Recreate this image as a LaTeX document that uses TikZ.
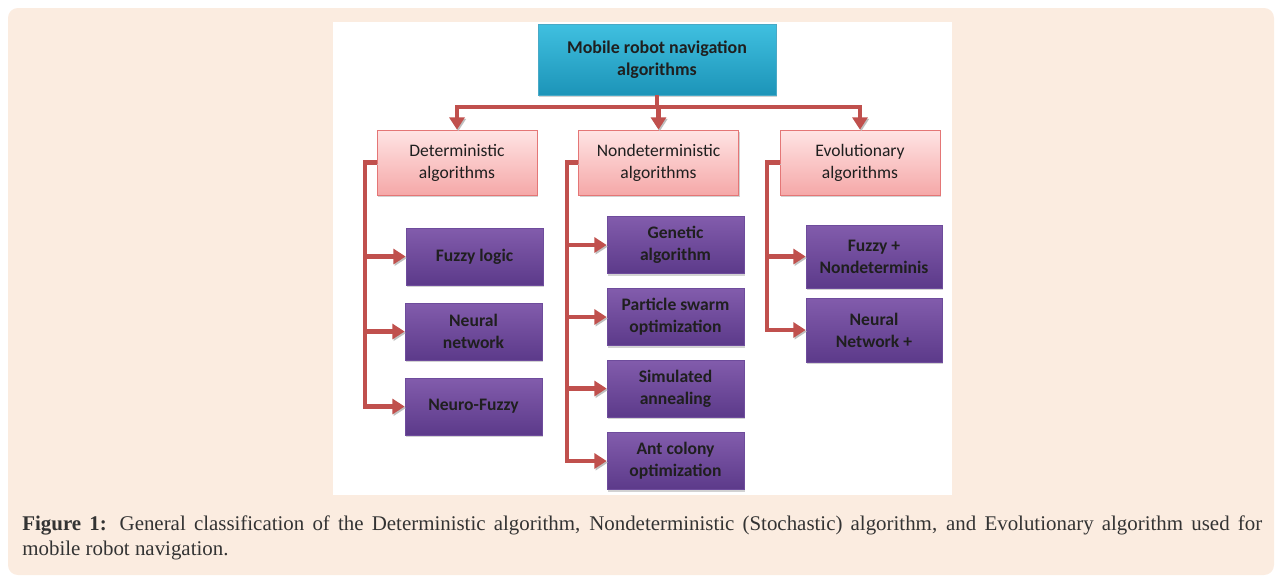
\documentclass[tikz,border=0pt]{standalone}
\usepackage{fontspec}
\setmainfont{Carlito}
\newfontfamily\capfont{Liberation Serif}
\usetikzlibrary{arrows.meta,shadows}
\definecolor{paper}{RGB}{251,236,224}
\definecolor{linkred}{RGB}{192,80,77}
\definecolor{tealtop}{RGB}{64,192,224}
\definecolor{tealbot}{RGB}{28,148,184}
\definecolor{pinktop}{RGB}{255,228,228}
\definecolor{pinkbot}{RGB}{245,168,168}
\definecolor{pinkline}{RGB}{228,118,118}
\definecolor{purptop}{RGB}{130,92,172}
\definecolor{purpbot}{RGB}{92,58,138}
\definecolor{purpline}{RGB}{110,76,156}

\begin{document}
\begin{tikzpicture}[x=0.02cm, y=-0.02cm, >={Triangle[width=8.5pt,length=7pt]},
    conn/.style={draw=linkred, line width=2.3pt,
      preaction={draw=black!25, transform canvas={xshift=0.7pt,yshift=-0.9pt}}},
    box/.style={rectangle, align=center, inner sep=0pt, text=black!88,
      drop shadow={shadow xshift=0.8pt, shadow yshift=-1.4pt, opacity=0.35},
      font=\fontsize{10}{12.5}\selectfont},
    root/.style={box, top color=tealtop, bottom color=tealbot, draw=tealbot!80,
      minimum width=4.76cm, minimum height=1.42cm, font=\fontsize{10.2}{12.5}\selectfont\bfseries},
    cat/.style={box, top color=pinktop, bottom color=pinkbot, draw=pinkline,
      minimum width=3.2cm, minimum height=1.3cm},
    leaf/.style={box, top color=purptop, bottom color=purpbot, draw=purpline,
      minimum width=2.74cm, minimum height=1.14cm, font=\fontsize{10}{12.5}\selectfont\bfseries},
    caption/.style={anchor=north west, inner sep=0pt, text width=24.8cm, align=justify,
      text=black!80, font=\capfont\fontsize{11.9}{14.2}\selectfont}]

    \useasboundingbox (0,0) rectangle (1282,582);
    \fill[paper, rounded corners=5.6pt] (8,8) rectangle (1274,575);
    \fill[white] (333,22) rectangle (952,495);

    % top of the tree
    \node[root] (root) at (657,59.5) {Mobile robot navigation\\algorithms};
    \node[cat] (det) at (457,162.5) {Deterministic\\algorithms};
    \node[cat] (nondet) at (658.5,162.5) {Nondeterministic\\algorithms};
    \node[cat] (evo) at (860,162.5) {Evolutionary\\algorithms};

    % deterministic
    \node[leaf] (fuzzy) at (474.5,256.5) {Fuzzy logic};
    \node[leaf] (neural) at (473.5,331.5) {Neural\\network};
    \node[leaf] (neurofuzzy) at (473.5,406.5) {Neuro-Fuzzy};

    % nondeterministic
    \node[leaf] (genetic) at (675.5,245) {Genetic\\algorithm};
    \node[leaf] (pso) at (675.5,317) {Particle swarm\\optimization};
    \node[leaf] (anneal) at (675.5,388.5) {Simulated\\annealing};
    \node[leaf] (antcol) at (675.5,461) {Ant colony\\optimization};

    % evolutionary
    \node[leaf, minimum width=2.72cm, minimum height=1.26cm] (fuzzynd) at (874,256.5) {Fuzzy +\\Nondeterminis};
    \node[leaf, minimum width=2.72cm, minimum height=1.28cm] (nnnd) at (874,330) {Neural\\Network +};

    \coordinate (split) at (657,107);
    \draw[conn] (root) -- (split);
    \draw[conn,->] (split) -| (det);
    \draw[conn,->] (split) -| (nondet);
    \draw[conn,->] (split) -| (evo);

    \draw[conn,->] (det.west) -- ++(-12,0) |- (fuzzy);
    \draw[conn,->] (det.west) -- ++(-12,0) |- (neural);
    \draw[conn,->] (det.west) -- ++(-12,0) |- (neurofuzzy);

    \draw[conn,->] (nondet.west) -- ++(-11,0) |- (genetic);
    \draw[conn,->] (nondet.west) -- ++(-11,0) |- (pso);
    \draw[conn,->] (nondet.west) -- ++(-11,0) |- (anneal);
    \draw[conn,->] (nondet.west) -- ++(-11,0) |- (antcol);

    \draw[conn,->] (evo.west) -- ++(-13,0) |- (fuzzynd);
    \draw[conn,->] (evo.west) -- ++(-13,0) |- (nnnd);

    \node[caption] (cap) at (22,515) {\textbf{Figure 1:} General classification of the Deterministic algorithm, Nondeterministic (Stochastic) algorithm, and Evolutionary algorithm used for\linebreak mobile robot navigation.};
\end{tikzpicture}
\end{document}
